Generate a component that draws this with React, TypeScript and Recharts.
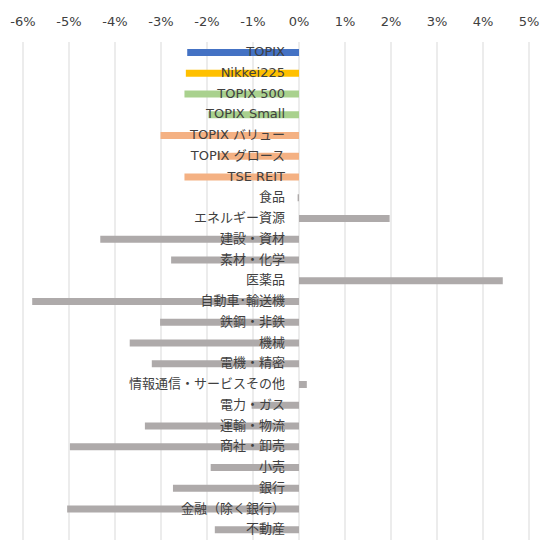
import React from 'react';
import { BarChart, Bar, XAxis, YAxis, CartesianGrid, Cell, LabelList } from 'recharts';

const categories = [
  'TOPIX',
  'Nikkei225',
  'TOPIX 500',
  'TOPIX Small',
  'TOPIX バリュー',
  'TOPIX グロース',
  'TSE REIT',
  '食品',
  'エネルギー資源',
  '建設・資材',
  '素材・化学',
  '医薬品',
  '自動車･輸送機',
  '鉄鋼・非鉄',
  '機械',
  '電機・精密',
  '情報通信・サービスその他',
  '電力・ガス',
  '運輸・物流',
  '商社・卸売',
  '小売',
  '銀行',
  '金融（除く銀行）',
  '不動産',
];

// monthly return, %
const returns = [
  -2.43, -2.46, -2.49, -1.97, -3.01, -1.77, -2.49,
  -0.03, 1.97, -4.32, -2.78, 4.43, -5.8, -3.02, -3.68, -3.2,
  0.17, -1.03, -3.35, -4.98, -1.92, -2.74, -5.04, -1.83,
];

const xTicks = [-6, -5, -4, -3, -2, -1, 0, 1, 2, 3, 4, 5];

const BLUE = '#4472C4';
const GOLD = '#FFC000';
const GREEN = '#A9D18E';
const ORANGE = '#F4B183';
const GREY = '#AEAAAA';

const barColors = [
  BLUE, GOLD, GREEN, GREEN, ORANGE, ORANGE, ORANGE,
  ...Array(17).fill(GREY),
];

const FONT = '"DejaVu Sans", "Noto Sans CJK JP", sans-serif';

const data = categories.map((name, i) => ({ name, value: returns[i] }));

// category name drawn just left of the zero line
const CategoryLabel = (props: any) => {
  const { x, y, width, height, index } = props;
  const zero = returns[index] < 0 ? Math.max(x, x + width) : Math.min(x, x + width);
  return (
    <text
      x={zero - 14}
      y={y + height / 2}
      dy={-1}
      textAnchor="end"
      dominantBaseline="central"
      fontSize={13}
      fontFamily={FONT}
      fill="#404040"
    >
      {categories[index]}
    </text>
  );
};

export default function App() {
  return (
    <div style={{ position: 'absolute', left: 0, top: 0, width: 549, height: 554, background: '#fff' }}>
      <BarChart
        width={549}
        height={554}
        data={data}
        layout="vertical"
        barSize={7}
        margin={{ top: 12, right: 20, bottom: 14, left: 23 }}
      >
        <CartesianGrid horizontal={false} stroke="#D9D9D9" />
        <XAxis
          type="number"
          orientation="top"
          domain={[-6, 5]}
          ticks={xTicks}
          interval={0}
          height={30}
          axisLine={false}
          tickLine={false}
          tickSize={0}
          tickMargin={16}
          tickFormatter={(v: number) => `${v}%`}
          tick={{ fill: '#404040', fontSize: 13, fontFamily: FONT }}
        />
        <YAxis type="category" dataKey="name" hide />
        <Bar dataKey="value" isAnimationActive={false}>
          {data.map((d, i) => (
            <Cell key={d.name} fill={barColors[i]} />
          ))}
          <LabelList dataKey="value" content={CategoryLabel} />
        </Bar>
      </BarChart>
    </div>
  );
}
